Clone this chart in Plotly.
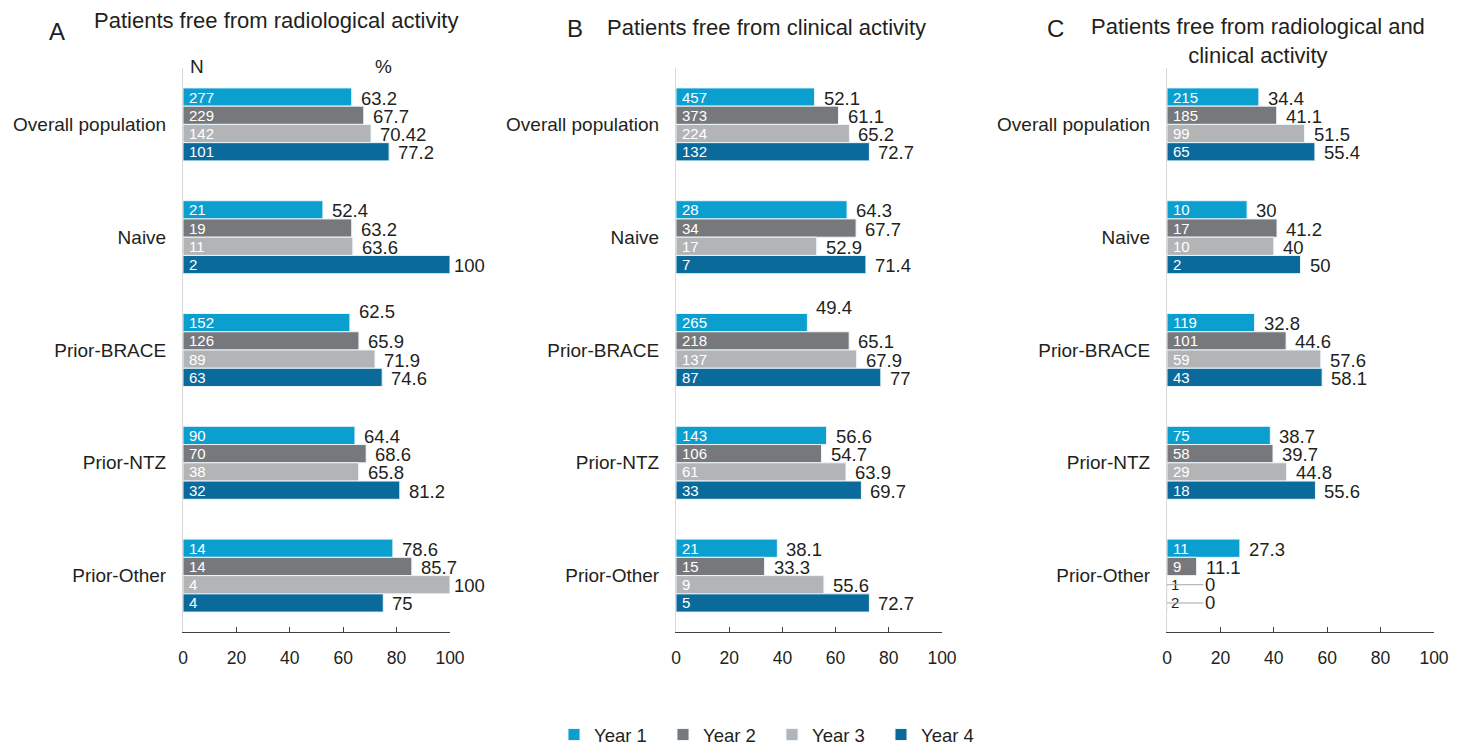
import plotly.graph_objects as go

# ---------------------------------------------------------------- data
categories = ["Overall population", "Naive", "Prior-BRACE", "Prior-NTZ", "Prior-Other"]
years = ["Year 1", "Year 2", "Year 3", "Year 4"]

# A: patients free from radiological activity (one row per year)
radio_pct = [
    [63.2, 52.4, 62.5, 64.4, 78.6],
    [67.7, 63.2, 65.9, 68.6, 85.7],
    [70.42, 63.6, 71.9, 65.8, 100],
    [77.2, 100, 74.6, 81.2, 75],
]
radio_n = [
    [277, 21, 152, 90, 14],
    [229, 19, 126, 70, 14],
    [142, 11, 89, 38, 4],
    [101, 2, 63, 32, 4],
]

# B: patients free from clinical activity
clin_pct = [
    [52.1, 64.3, 49.4, 56.6, 38.1],
    [61.1, 67.7, 65.1, 54.7, 33.3],
    [65.2, 52.9, 67.9, 63.9, 55.6],
    [72.7, 71.4, 77, 69.7, 72.7],
]
clin_n = [
    [457, 28, 265, 143, 21],
    [373, 34, 218, 106, 15],
    [224, 17, 137, 61, 9],
    [132, 7, 87, 33, 5],
]

# C: patients free from radiological and clinical activity
both_pct = [
    [34.4, 30, 32.8, 38.7, 27.3],
    [41.1, 41.2, 44.6, 39.7, 11.1],
    [51.5, 40, 57.6, 44.8, 0],
    [55.4, 50, 58.1, 55.6, 0],
]
both_n = [
    [215, 10, 119, 75, 11],
    [185, 17, 101, 58, 9],
    [99, 10, 59, 29, 1],
    [65, 2, 43, 18, 2],
]

x_ticks = [0, 20, 40, 60, 80, 100]

# ---------------------------------------------------------------- style
W, H = 1468, 746
FONT = "Liberation Sans, Arial, sans-serif"
TXT = "#231F20"
colors = ["#0B9FD0", "#77787B", "#B3B4B6", "#0A6A9C"]
BARGAP = 0.353
slot = (1 - BARGAP) / 4


def px(x):
    return x / W


def py(y):
    return 1 - y / H


panels = [
    dict(pct=radio_pct, n=radio_n, dom=(183, 450), letter="A", lx=47, ly=31,
         title="Patients free from radiological activity", tx=92, ty=20, tanchor="left"),
    dict(pct=clin_pct, n=clin_n, dom=(676, 942), letter="B", lx=565, ly=28,
         title="Patients free from clinical activity", tx=605, ty=27, tanchor="left"),
    dict(pct=both_pct, n=both_n, dom=(1167, 1434), letter="C", lx=1045, ly=28,
         title="Patients free from radiological and<br>clinical activity", tx=1258, ty=41,
         tanchor="center"),
]

# labels nudged upward so they clear neighbouring bars
lift = {(0, 2, 0): 12, (1, 2, 0): 16}

fig = go.Figure()
annotations = []
layout = {}
y_top, y_bot = 68, 632

for p, pan in enumerate(panels):
    sfx = "" if p == 0 else str(p + 1)
    xa, ya = "x" + sfx, "y" + sfx
    for j, yr in enumerate(years):
        fig.add_trace(go.Bar(
            orientation="h",
            x=pan["pct"][j],
            y=categories,
            name=yr,
            legendgroup=yr,
            showlegend=(p == 0),
            marker=dict(color=colors[j], line=dict(color="#EAF6FB", width=1)),
            xaxis=xa, yaxis=ya,
            hoverinfo="skip",
        ))
        for i, cat in enumerate(categories):
            v = pan["pct"][j][i]
            n = pan["n"][j][i]
            yc = i + (j - 1.5) * slot
            # N inside the start of the bar
            annotations.append(dict(
                x=0, y=yc, xref=xa, yref=ya, text=str(n), showarrow=False,
                xanchor="left", yanchor="middle", xshift=4 if v > 0 else 2,
                font=dict(size=15, color="white" if v > 0 else TXT, family=FONT),
            ))
            # percentage after the end of the bar
            if v > 0:
                annotations.append(dict(
                    x=v, y=yc, xref=xa, yref=ya, text=f"{v:g}", showarrow=False,
                    xanchor="left", yanchor="middle",
                    xshift=2 if v >= 100 else 7, yshift=lift.get((p, i, j), 0) - 1,
                    font=dict(size=18.5, color=TXT, family=FONT),
                ))
            else:
                annotations.append(dict(
                    x=0, y=yc, xref=xa, yref=ya, text=f"{v:g}", showarrow=True,
                    ax=43, ay=0, arrowhead=0, arrowwidth=1, arrowcolor="#A6A6A6",
                    standoff=0, font=dict(size=18.5, color=TXT, family=FONT),
                ))

    layout["xaxis" + sfx] = dict(
        domain=[px(pan["dom"][0]), px(pan["dom"][1])], anchor=ya, automargin=False,
        range=[0, 100], tickvals=x_ticks, showgrid=False, zeroline=False,
        showline=True, linecolor="#404040", linewidth=1,
        ticks="inside", ticklen=5, tickcolor="#404040",
        tickfont=dict(size=17.5, color=TXT, family=FONT), ticklabelstandoff=10,
    )
    layout["yaxis" + sfx] = dict(
        domain=[py(y_bot), py(y_top)], anchor=xa, type="category", automargin=False,
        categoryarray=categories, range=[4.5, -0.5], showgrid=False, zeroline=False,
        showline=True, linecolor="#D9D9D9", linewidth=1, ticks="",
        tickfont=dict(size=19, color=TXT, family=FONT), ticklabelstandoff=12,
    )

    annotations.append(dict(
        x=px(pan["lx"]), y=py(pan["ly"]), xref="paper", yref="paper", text=pan["letter"],
        showarrow=False, xanchor="left", yanchor="middle",
        font=dict(size=24, color=TXT, family=FONT),
    ))
    annotations.append(dict(
        x=px(pan["tx"]), y=py(pan["ty"]), xref="paper", yref="paper", text=pan["title"],
        showarrow=False, xanchor=pan["tanchor"], yanchor="middle", align="center",
        font=dict(size=22, color=TXT, family=FONT),
    ))

# column headers of panel A
for label, x in (("N", 188), ("%", 373)):
    annotations.append(dict(
        x=px(x), y=py(66), xref="paper", yref="paper", text=label, showarrow=False,
        xanchor="left", yanchor="middle", font=dict(size=19, color=TXT, family=FONT),
    ))

fig.update_layout(
    width=W, height=H,
    margin=dict(l=0, r=0, t=0, b=0, autoexpand=False),
    paper_bgcolor="white", plot_bgcolor="white",
    barmode="group", bargap=BARGAP, bargroupgap=0,
    font=dict(family=FONT, color=TXT),
    annotations=annotations,
    legend=dict(
        orientation="h", x=px(554), xanchor="left", y=py(735), yanchor="middle",
        font=dict(size=18.5, color=TXT, family=FONT),
        entrywidth=64, entrywidthmode="pixels", traceorder="normal",
        bgcolor="rgba(0,0,0,0)",
    ),
    **layout,
)

fig.write_html("out.html")
